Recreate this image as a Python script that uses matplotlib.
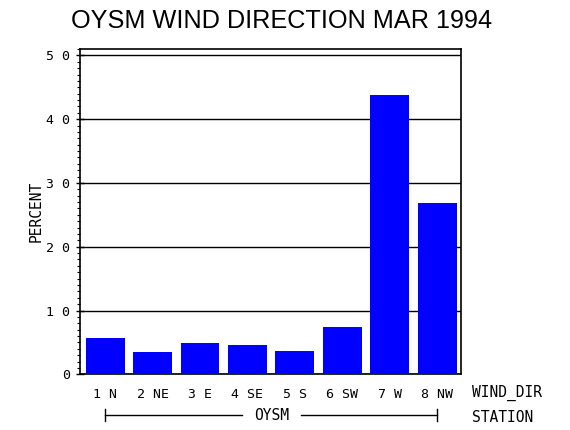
import matplotlib
matplotlib.use("Agg")
import matplotlib.pyplot as plt
from matplotlib.ticker import MultipleLocator
from matplotlib.transforms import blended_transform_factory
from matplotlib.lines import Line2D

categories = ["1 N", "2 NE", "3 E", "4 SE", "5 S", "6 SW", "7 W", "8 NW"]
percent = [5.7, 3.5, 4.9, 4.6, 3.6, 7.4, 43.8, 26.9]
station = "OYSM"
title = "OYSM WIND DIRECTION MAR 1994"

title_font = "Liberation Sans"
mono = "DejaVu Sans Mono"

fig = plt.figure(figsize=(5.7, 4.3), dpi=100)
ax = fig.add_axes([80/570, 1-374.3/430, 381/570, (374.3-49)/430])

x = list(range(1, len(categories)+1))
ax.bar(x, percent, width=0.82, color="#0000ff", zorder=3)
ax.set_xlim(0.47, 8.5)
ax.set_ylim(0, 51)

ax.yaxis.set_major_locator(MultipleLocator(10))
ax.yaxis.set_minor_locator(MultipleLocator(1))
ax.grid(axis="y", which="major", color="black", linewidth=1.0, zorder=1)
ax.tick_params(axis="y", which="major", direction="inout", length=6, width=1, pad=4)
ax.tick_params(axis="y", which="minor", direction="out", length=2.5, width=0.8)
ax.set_yticks([0, 10, 20, 30, 40, 50])
ax.set_yticklabels(["0", "1 0", "2 0", "3 0", "4 0", "5 0"], fontfamily=mono, fontsize=9.5)

ax.set_xticks(x)
ax.set_xticklabels(categories, fontfamily=mono, fontsize=9.5)
ax.tick_params(axis="x", length=0, pad=10)
for s in ax.spines.values():
    s.set_linewidth(1.2)

ax.set_ylabel("PERCENT", fontfamily=mono, fontsize=10.5)
ax.yaxis.set_label_coords(-36/381, 0.5)

fig.text(472/570, 1-393/430, "WIND_DIR", fontfamily=mono, fontsize=10.5,
         ha="left", va="center")
fig.text(472/570, 1-418/430, "STATION", fontfamily=mono, fontsize=10.5, ha="left", va="center")

tr = blended_transform_factory(ax.transData, fig.transFigure)
yl = 1-415/430
mid = (x[0] + x[-1]) / 2
gap = 0.62
fig.add_artist(Line2D([x[0], mid-gap], [yl, yl], transform=tr, color="black", lw=1))
fig.add_artist(Line2D([mid+gap, x[-1]], [yl, yl], transform=tr, color="black", lw=1))
for xe in (x[0], x[-1]):
    fig.add_artist(Line2D([xe, xe], [yl-6/430, yl+6/430], transform=tr, color="black", lw=1))
fig.text(mid, yl, station, transform=tr, fontfamily=mono, fontsize=10.5, ha="center", va="center")

fig.text(282/570, 1-21/430, title, fontfamily=title_font, fontsize=18.2, ha="center", va="center")

fig.savefig("out.png", dpi=100, facecolor="white")
